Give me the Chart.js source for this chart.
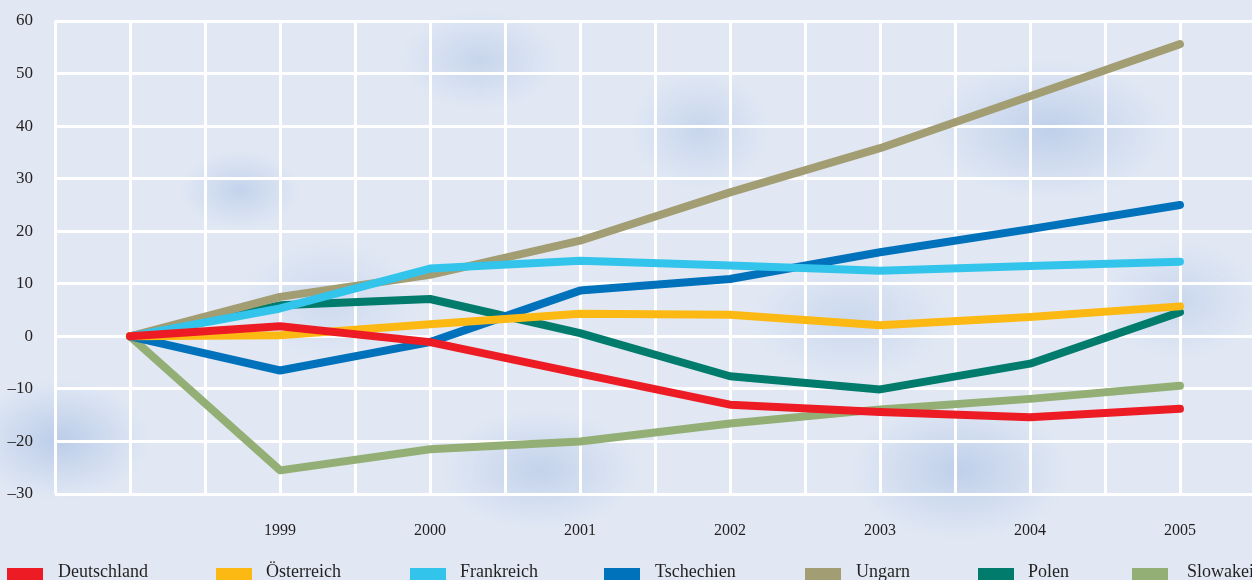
<!DOCTYPE html>
<html>
<head>
<meta charset="utf-8">
<script src="https://cdn.jsdelivr.net/npm/chart.js@4/dist/chart.umd.min.js"></script>
<style>
  html, body { margin: 0; padding: 0; width: 1252px; height: 580px; overflow: hidden; }
  body {
    background-color: #e1e8f4;
    background-image:
      radial-gradient(ellipse 60px 40px at 240px 190px, rgba(160,185,225,0.45), rgba(160,185,225,0)),
      radial-gradient(ellipse 80px 50px at 480px 60px, rgba(160,185,225,0.4), rgba(160,185,225,0)),
      radial-gradient(ellipse 70px 60px at 700px 130px, rgba(160,185,225,0.4), rgba(160,185,225,0)),
      radial-gradient(ellipse 120px 70px at 1050px 130px, rgba(150,178,222,0.45), rgba(150,178,222,0)),
      radial-gradient(ellipse 90px 60px at 60px 440px, rgba(150,178,222,0.5), rgba(150,178,222,0)),
      radial-gradient(ellipse 100px 60px at 540px 470px, rgba(150,178,222,0.4), rgba(150,178,222,0)),
      radial-gradient(ellipse 110px 70px at 960px 470px, rgba(150,178,222,0.45), rgba(150,178,222,0)),
      radial-gradient(ellipse 90px 60px at 330px 300px, rgba(160,185,225,0.3), rgba(160,185,225,0)),
      radial-gradient(ellipse 100px 60px at 850px 320px, rgba(160,185,225,0.35), rgba(160,185,225,0)),
      radial-gradient(ellipse 80px 60px at 1180px 300px, rgba(160,185,225,0.35), rgba(160,185,225,0));
  }
  #wrap { position: absolute; left: 0; top: 0; width: 1256px; height: 580px; }
  #legend { position: absolute; left: 0; top: 0; width: 1252px; height: 580px; pointer-events: none; }
  .lg-box { position: absolute; top: 568px; width: 36px; height: 14px; }
  .lg-txt { position: absolute; top: 561px; font-family: "Liberation Serif", "Times New Roman", serif; font-size: 18px; line-height: 20px; color: #231f20; white-space: nowrap; }
</style>
</head>
<body>
<div id="wrap"><canvas id="c" width="1256" height="580"></canvas></div>
<div id="legend"></div>
<script>
const years = [1998, 1999, 2000, 2001, 2002, 2003, 2004, 2005];
const yearLabels = ["1999", "2000", "2001", "2002", "2003", "2004", "2005"];
const seriesNames = ["Deutschland", "Österreich", "Frankreich", "Tschechien", "Ungarn", "Polen", "Slowakei"];
const deutschland = [0, 1.9, -1.1, -7.1, -13.0, -14.4, -15.4, -13.8];
const oesterreich = [0, 0.2, 2.3, 4.3, 4.1, 2.1, 3.7, 5.7];
const frankreich  = [0, 5.3, 12.9, 14.4, 13.5, 12.5, 13.4, 14.2];
const tschechien  = [0, -6.5, -1.1, 8.7, 10.9, 16.0, 20.4, 25.0];
const ungarn      = [0, 7.5, 11.7, 18.2, 27.4, 35.8, 45.7, 55.6];
const polen       = [0, 5.9, 7.1, 0.6, -7.6, -10.1, -5.2, 4.6];
const slowakei    = [0, -25.5, -21.5, -20.0, -16.6, -13.9, -11.9, -9.4];
const yTicks = [-30, -20, -10, 0, 10, 20, 30, 40, 50, 60];

const colors = ["#ed1c24", "#fdb913", "#33c4eb", "#0071bb", "#a29d72", "#007b6c", "#93af75"];
const values = [deutschland, oesterreich, frankreich, tschechien, ungarn, polen, slowakei];

const datasets = seriesNames.map((name, i) => ({
  label: name,
  data: years.map((y, j) => ({ x: y, y: values[i][j] })),
  borderColor: colors[i],
  backgroundColor: colors[i],
  borderWidth: 8,
  borderCapStyle: "round",
  borderJoinStyle: "round",
  pointRadius: 0,
  tension: 0,
  fill: false
}));

const serif = "'Liberation Serif', 'Times New Roman', serif";

new Chart(document.getElementById("c"), {
  type: "line",
  data: { datasets },
  options: {
    responsive: false,
    animation: false,
    events: [],
    layout: { padding: { top: 21, right: 1, left: 0, bottom: 0 } },
    plugins: { legend: { display: false }, tooltip: { enabled: false } },
    scales: {
      x: {
        type: "linear",
        min: 1997.5,
        max: 2005.5,
        afterBuildTicks: (s) => {
          const t = [];
          for (let v = 1997.5; v <= 2005.5 + 1e-9; v += 0.5) t.push({ value: v });
          s.ticks = t;
        },
        afterFit: (s) => { s.height = 86; s.paddingLeft = 0; s.paddingRight = 0; },
        grid: { color: "#ffffff", lineWidth: 3, drawTicks: false },
        border: { display: false },
        ticks: {
          padding: 27,
          autoSkip: false,
          maxRotation: 0,
          color: "#231f20",
          font: { family: serif, size: 16 },
          callback: (v) => {
            const i = yearLabels.indexOf(String(v));
            return i >= 0 ? yearLabels[i] : "";
          }
        }
      },
      y: {
        min: -30,
        max: 60,
        afterBuildTicks: (s) => { s.ticks = yTicks.map(v => ({ value: v })); },
        afterFit: (s) => { s.width = 55; s.paddingTop = 0; s.paddingBottom = 0; },
        grid: { color: "#ffffff", lineWidth: 3, drawTicks: false },
        border: { display: false },
        ticks: {
          padding: 22,
          color: "#231f20",
          font: { family: serif, size: 17 },
          callback: (v) => String(v).replace("-", "\u2013")
        }
      }
    }
  }
});

const legendPos = [[7, 58], [216, 266], [410, 460], [604, 655], [805, 856], [978, 1028], [1132, 1187]];
const lg = document.getElementById("legend");
seriesNames.forEach((name, i) => {
  const b = document.createElement("div");
  b.className = "lg-box";
  b.style.left = legendPos[i][0] + "px";
  b.style.background = colors[i];
  lg.appendChild(b);
  const t = document.createElement("div");
  t.className = "lg-txt";
  t.style.left = legendPos[i][1] + "px";
  t.textContent = name;
  lg.appendChild(t);
});
</script>
</body>
</html>
